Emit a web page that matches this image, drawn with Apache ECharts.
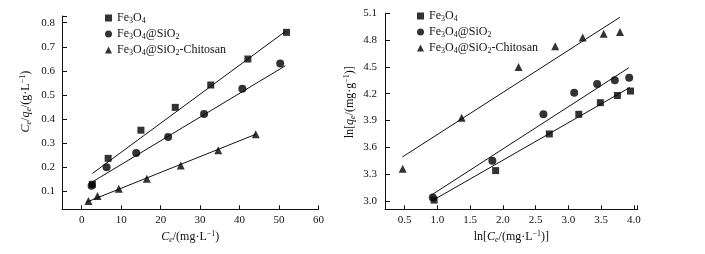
<!DOCTYPE html>
<html>
<head>
<meta charset="utf-8">
<script src="https://cdn.jsdelivr.net/npm/echarts@6/dist/echarts.min.js"></script>
<style>
html,body{margin:0;padding:0;background:#fff;}
#chart{width:705px;height:254px;}
</style>
</head>
<body>
<div id="chart"></div>
<script>
// ---- Left chart: Ce/qe vs Ce ----
const seriesNames = ['Fe3O4', 'Fe3O4@SiO2', 'Fe3O4@SiO2-Chitosan'];
const fe3o4Ce = [2.7, 6.7, 15.0, 23.7, 32.7, 42.1, 51.9];
const fe3o4Ratio = [0.128, 0.236, 0.353, 0.448, 0.541, 0.649, 0.760];
const sio2Ce = [2.5, 6.3, 13.8, 21.9, 31.0, 40.7, 50.3];
const sio2Ratio = [0.122, 0.199, 0.258, 0.325, 0.420, 0.525, 0.630];
const chitCe = [1.7, 4.0, 9.4, 16.5, 25.1, 34.6, 44.1];
const chitRatio = [0.059, 0.079, 0.109, 0.151, 0.206, 0.270, 0.336];
// fitted lines (endpoints)
const fe3o4FitCe = [2.7, 51.7];
const fe3o4FitRatio = [0.173, 0.765];
const sio2FitCe = [2.5, 51.6];
const sio2FitRatio = [0.136, 0.621];
const chitFitCe = [1.1, 44.1];
const chitFitRatio = [0.053, 0.336];
const leftXTicks = [0, 10, 20, 30, 40, 50, 60];
const leftYTicks = [0.1, 0.2, 0.3, 0.4, 0.5, 0.6, 0.7, 0.8];

// ---- Right chart: ln qe vs ln Ce ----
const fe3o4LnCe = [0.95, 1.89, 2.71, 3.16, 3.49, 3.75, 3.95];
const fe3o4LnQe = [3.01, 3.34, 3.75, 3.97, 4.10, 4.18, 4.23];
const sio2LnCe = [0.93, 1.84, 2.62, 3.09, 3.44, 3.71, 3.93];
const sio2LnQe = [3.04, 3.45, 3.97, 4.21, 4.31, 4.35, 4.38];
const chitLnCe = [0.47, 1.37, 2.24, 2.80, 3.22, 3.54, 3.79];
const chitLnQe = [3.36, 3.93, 4.50, 4.73, 4.83, 4.87, 4.89];
const fe3o4FitLnCe = [0.94, 3.94];
const fe3o4FitLnQe = [3.011, 4.27];
const sio2FitLnCe = [0.91, 3.925];
const sio2FitLnQe = [3.067, 4.491];
const chitFitLnCe = [0.465, 3.787];
const chitFitLnQe = [3.492, 5.055];
const rightXTicks = [0.5, 1.0, 1.5, 2.0, 2.5, 3.0, 3.5, 4.0];
const rightYTicks = [3.0, 3.3, 3.6, 3.9, 4.2, 4.5, 4.8, 5.1];

const FONT = "'Liberation Serif', 'Times New Roman', serif";
const INK = '#111';
const zip = (a, b) => a.map((v, i) => [v, b[i]]);

const rich = {
  i: { fontStyle: 'italic', fontFamily: FONT, fontSize: 12, color: INK, lineHeight: 14 },
  s: { fontSize: 8, fontFamily: FONT, color: INK, lineHeight: 8, verticalAlign: 'bottom' },
  si: { fontSize: 8, fontStyle: 'italic', fontFamily: FONT, color: INK, lineHeight: 8, verticalAlign: 'bottom' },
  p: { fontSize: 8, fontFamily: FONT, color: INK, lineHeight: 8, verticalAlign: 'top' }
};
const legendLabel = {
  'Fe3O4': 'Fe{s|3}O{s|4}',
  'Fe3O4@SiO2': 'Fe{s|3}O{s|4}@SiO{s|2}',
  'Fe3O4@SiO2-Chitosan': 'Fe{s|3}O{s|4}@SiO{s|2}-Chitosan'
};
const symbols = ['rect', 'circle', 'triangle'];
const symbolSizes = [7, 8, 8];

function axisCommon(extra) {
  return Object.assign({
    type: 'value',
    axisLine: { show: true, onZero: false, lineStyle: { color: INK, width: 1 } },
    splitLine: { show: false }
  }, extra);
}
function nameStyle(padding) {
  return { fontFamily: FONT, fontSize: 12, color: INK, lineHeight: 14, rich: rich, padding: padding };
}

const leftScatter = [zip(fe3o4Ce, fe3o4Ratio), zip(sio2Ce, sio2Ratio), zip(chitCe, chitRatio)];
const leftFits = [zip(fe3o4FitCe, fe3o4FitRatio), zip(sio2FitCe, sio2FitRatio), zip(chitFitCe, chitFitRatio)];
const rightScatter = [zip(fe3o4LnCe, fe3o4LnQe), zip(sio2LnCe, sio2LnQe), zip(chitLnCe, chitLnQe)];
const rightFits = [zip(fe3o4FitLnCe, fe3o4FitLnQe), zip(sio2FitLnCe, sio2FitLnQe), zip(chitFitLnCe, chitFitLnQe)];

const series = [];
[[leftScatter, leftFits, 0], [rightScatter, rightFits, 1]].forEach(([sc, fits, idx]) => {
  fits.forEach((d, k) => series.push({
    name: 'fit' + idx + k, type: 'line', xAxisIndex: idx, yAxisIndex: idx, data: d,
    symbol: 'none', lineStyle: { color: INK, width: 1 }, silent: true, z: 1, animation: false
  }));
  sc.forEach((d, k) => series.push({
    name: seriesNames[k], type: 'scatter', xAxisIndex: idx, yAxisIndex: idx, data: d,
    symbol: symbols[k], symbolSize: symbolSizes[k], itemStyle: { color: '#000' }, z: 3, animation: false
  }));
});

const legendBase = {
  data: seriesNames, orient: 'vertical', itemWidth: 7, itemHeight: 7, itemGap: 2,
  selectedMode: false,
  formatter: n => legendLabel[n],
  textStyle: { fontFamily: FONT, fontSize: 12, color: INK, lineHeight: 14, rich: rich }
};

const option = {
  backgroundColor: '#fff',
  animation: false,
  textStyle: { fontFamily: FONT },
  grid: [
    { left: 62, top: 16, width: 256.5, height: 193.3 },
    { left: 385, top: 13.3, width: 252.7, height: 196 }
  ],
  legend: [
    Object.assign({}, legendBase, { left: 100, top: 6 }),
    Object.assign({}, legendBase, { left: 412, top: 4 })
  ],
  xAxis: [
    axisCommon({
      gridIndex: 0, min: -5, max: 60,
      name: '{i|C}{si|e}/(mg·L{p|−1})', nameLocation: 'middle', nameGap: 20, nameTextStyle: nameStyle(0),
      axisTick: { inside: true, length: 4, lineStyle: { color: INK }, customValues: leftXTicks },
      axisLabel: { customValues: leftXTicks, fontFamily: FONT, fontSize: 11, color: INK, margin: 5 }
    }),
    axisCommon({
      gridIndex: 1, min: 0.2, max: 4.06,
      name: 'ln[{i|C}{si|e}/(mg·L{p|−1})]', nameLocation: 'middle', nameGap: 20, nameTextStyle: nameStyle(0),
      axisTick: { inside: true, length: 4, lineStyle: { color: INK }, customValues: rightXTicks.concat([4.06]) },
      axisLabel: { customValues: rightXTicks, fontFamily: FONT, fontSize: 11, color: INK, margin: 5,
        formatter: v => v.toFixed(1) }
    })
  ],
  yAxis: [
    axisCommon({
      gridIndex: 0, min: 0.024, max: 0.828,
      name: '{i|C}{si|e}/{i|q}{si|e}/(g·L{p|−1})', nameLocation: 'middle', nameGap: 29, nameRotate: 90,
      nameTextStyle: nameStyle([0, 0, 0, 22]),
      axisTick: { inside: true, length: 5, lineStyle: { color: INK }, customValues: leftYTicks.concat([0.828]) },
      axisLabel: { customValues: leftYTicks, fontFamily: FONT, fontSize: 11, color: INK, margin: 7,
        formatter: v => v.toFixed(1) }
    }),
    axisCommon({
      gridIndex: 1, min: 2.907, max: 5.1,
      name: 'ln[{i|q}{si|e}/(mg·g{p|−1})]', nameLocation: 'middle', nameGap: 28, nameRotate: 90,
      nameTextStyle: nameStyle([0, 0, 0, 18]),
      axisTick: { inside: true, length: 5, lineStyle: { color: INK }, customValues: rightYTicks },
      axisLabel: { customValues: rightYTicks, fontFamily: FONT, fontSize: 11, color: INK, margin: 8,
        formatter: v => v.toFixed(1) }
    })
  ],
  series: series
};

const chart = echarts.init(document.getElementById('chart'), null, { renderer: 'canvas' });
chart.setOption(option);
</script>
</body>
</html>
